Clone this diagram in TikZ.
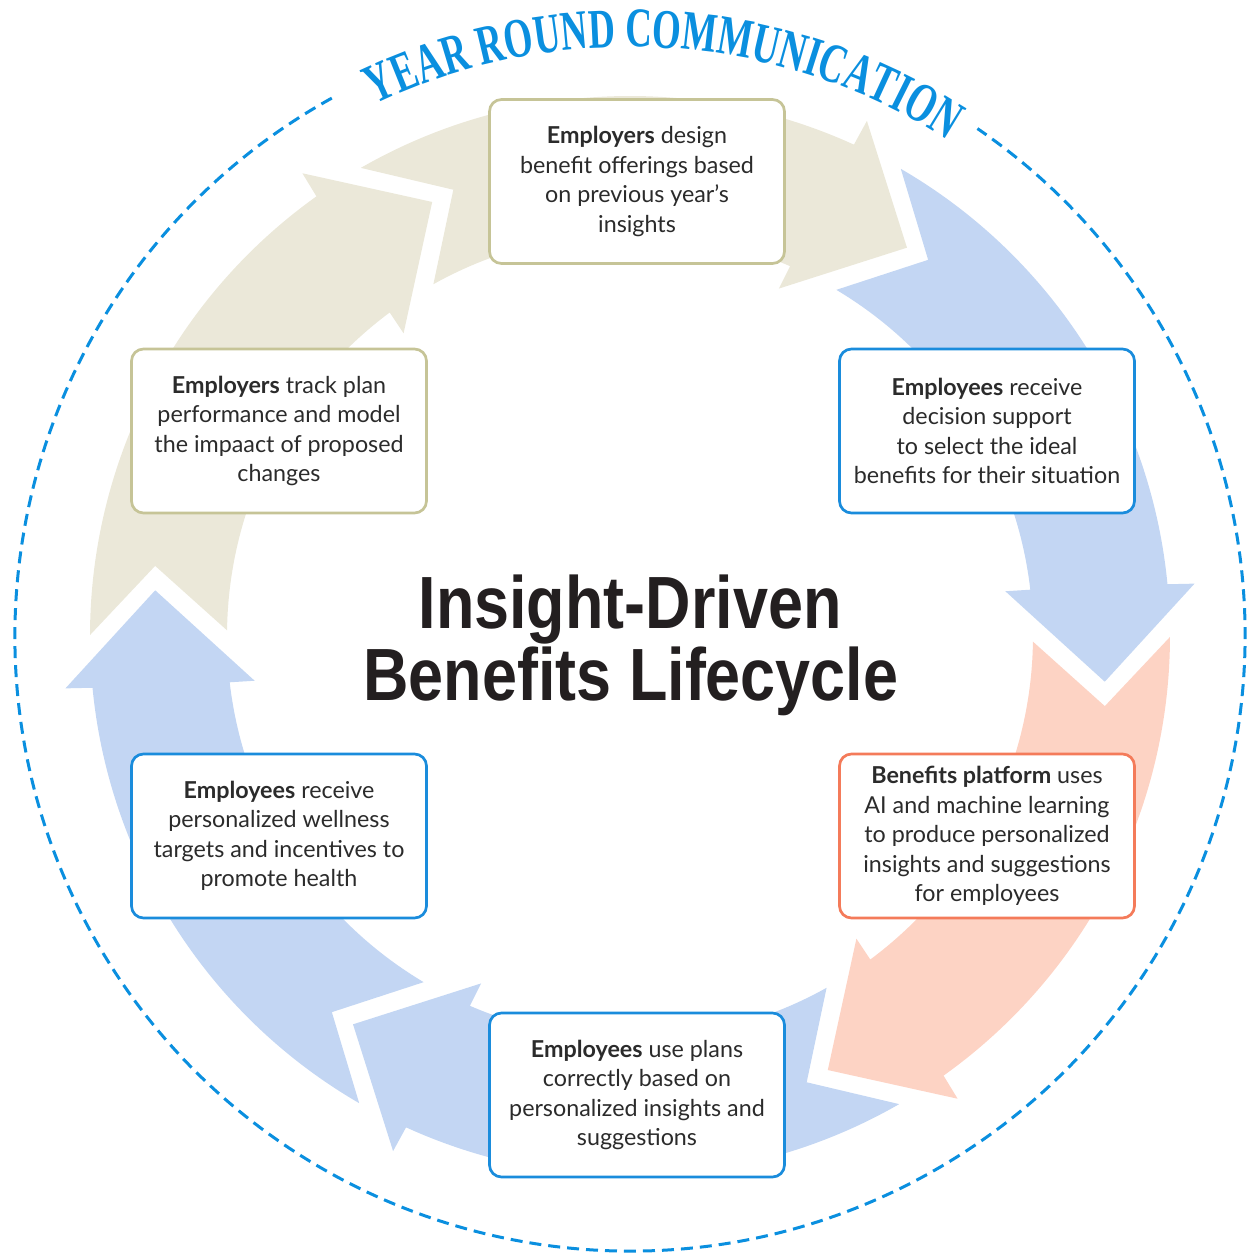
\documentclass[tikz,border=0pt]{standalone}
\usepackage{fontspec}
\setmainfont{Lato}
\newfontfamily\titlefont[FakeStretch=0.85]{Liberation Sans}
\newfontfamily\arcfont[FakeStretch=0.66]{Liberation Serif}
\usetikzlibrary{decorations.text}

\definecolor{sand}{HTML}{EBE8D9}
\definecolor{sky}{HTML}{C3D6F3}
\definecolor{peach}{HTML}{FDD3C4}
\definecolor{olive}{HTML}{C6C497}
\definecolor{cardblue}{HTML}{1A8CDC}
\definecolor{coral}{HTML}{F47B5A}
\definecolor{ringblue}{HTML}{0A8FDF}
\definecolor{ink}{HTML}{231F20}
\definecolor{body}{HTML}{2B2B2B}

\tikzset{
  card/.style={draw, line width=2.7pt, rounded corners=12pt, fill=white,
    minimum width=295pt, minimum height=164pt, inner sep=0pt,
    align=center, text=body, font=\fontsize{23.3}{29.5}\selectfont},
  headline/.style={anchor=base, text=ink,
    font=\titlefont\bfseries\fontsize{74}{74}\selectfont},
}

\begin{document}
\begin{tikzpicture}[x=1pt, y=1pt]
\useasboundingbox (-630,-622) rectangle (619,636);

% six chevron arrows around the cycle, clockwise
\foreach \k/\col in {0/sand,1/sand,2/sky,3/peach,4/sky,5/sky}{
  \pgfmathsetmacro\p{114.5-60*\k}
  \fill[\col] (\p+65.4:540pt) -- (\p+57.1:480pt) -- (\p+64.7:403pt)
    arc[start angle=\p+64.7, end angle=\p+12.1, radius=403pt]
    -- (\p+12.3:378pt) -- (\p:477pt) -- (\p+10.8:567pt) -- (\p+11.0:540pt)
    arc[start angle=\p+11.0, end angle=\p+65.4, radius=540pt] -- cycle;
}

% dashed communication ring, open at the top
\draw[ringblue, line width=3pt, dash pattern=on 12pt off 7pt]
  (119:615pt) arc[start angle=119, end angle=415.6, radius=615pt];

\path[decorate, decoration={text along path,
    text={|\arcfont\bfseries\fontsize{56}{56}\selectfont|YEAR ROUND COMMUNICATION},
    text align=center, text color=ringblue}]
  (124:589pt) arc[start angle=124, end angle=49, radius=589pt];

% stage cards
\node[card, draw=olive] (design) at (7,454.5)
  {{\bfseries Employers} design\\ benefit offerings based\\ on previous year’s\\ insights};
\node[card, draw=cardblue] (select) at (357,205)
  {{\bfseries Employees} receive\\ decision support\\ to select the ideal\\ benefits for their situation};
\node[card, draw=coral] (platform) at (357,-200)
  {{\bfseries Benefits platform} uses\\ AI and machine learning\\ to produce personalized\\ insights and suggestions\\ for employees};
\node[card, draw=cardblue] (use) at (7,-459)
  {{\bfseries Employees} use plans\\ correctly based on\\ personalized insights and\\ suggestions};
\node[card, draw=cardblue] (wellness) at (-351,-200)
  {{\bfseries Employees} receive\\ personalized wellness\\ targets and incentives to\\ promote health};
\node[card, draw=olive] (track) at (-351,205)
  {{\bfseries Employers} track plan\\ performance and model\\ the impaact of proposed\\ changes};

% centre title
\node[headline] (title1) at (0,8) {Insight-Driven};
\node[headline] (title2) at (1,-64) {Benefits Lifecycle};
\end{tikzpicture}
\end{document}
